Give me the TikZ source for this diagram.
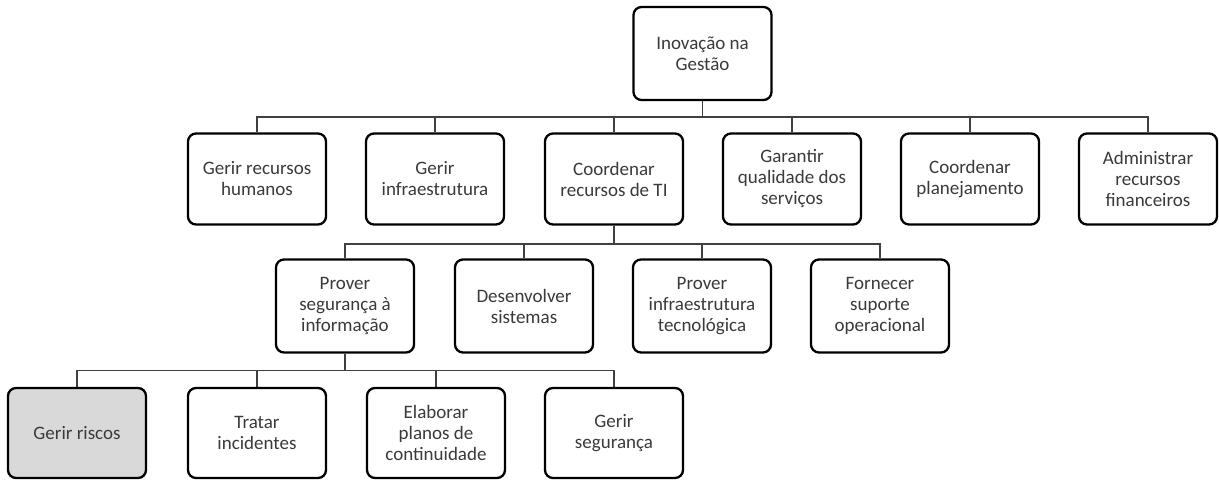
\documentclass[tikz,border=0pt]{standalone}
\usepackage{fontspec}
\setmainfont{Carlito}
\usepackage{xcolor}
\usepackage{tikz}
\usetikzlibrary{backgrounds}
\definecolor{riskgray}{HTML}{D9D9D9}
\definecolor{textgray}{HTML}{3A3A3A}
\definecolor{wiregray}{HTML}{404040}
\begin{document}
\begin{tikzpicture}[x=1pt,y=-1pt,
  task/.style={draw=black,line width=2.3pt,rounded corners=8pt,fill=white,
   minimum width=138pt,minimum height=91pt,inner sep=2pt,align=center,
   text=textgray,font=\fontsize{19}{21}\selectfont},
  wire/.style={draw=wiregray,line width=1.5pt}]
 \useasboundingbox (0,0) rectangle (1219,480);
 % root
 \node[task,minimum height=93pt] (root) at (702.5,53.5) {Inovação na\\Gestão};
 % first level
 \node[task] (rh)    at (257,179) {Gerir recursos\\humanos};
 \node[task] (infra) at (435,179) {Gerir\\infraestrutura};
 \node[task] (ti)    at (614,179) {Coordenar\\recursos de TI};
 \node[task] (qual)  at (792,179) {Garantir\\qualidade dos\\serviços};
 \node[task] (plan)  at (970,179) {Coordenar\\planejamento};
 \node[task] (fin)   at (1148,179) {Administrar\\recursos\\financeiros};
 % second level
 \node[task,minimum height=93pt] (seg)  at (345,306) {Prover\\segurança à\\informação};
 \node[task,minimum height=93pt] (sis)  at (524,306) {Desenvolver\\sistemas};
 \node[task,minimum height=93pt] (tec)  at (702,306) {Prover\\infraestrutura\\tecnológica};
 \node[task,minimum height=93pt] (sup)  at (880,306) {Fornecer\\suporte\\operacional};
 % third level
 \node[task,fill=riskgray,minimum height=90pt] (risk) at (77,433) {Gerir riscos};
 \node[task,minimum height=90pt] (inc)  at (257,433) {Tratar\\incidentes};
 \node[task,minimum height=90pt] (cont) at (436,433) {Elaborar\\planos de\\continuidade};
 \node[task,minimum height=90pt] (gseg) at (614,433) {Gerir\\segurança};
 % connectors
 \begin{scope}[on background layer]
  \foreach \c in {rh,infra,ti,qual,plan,fin}
   \draw[wire] (root.south) -- ++(0,16) -| (\c.north);
  \foreach \c in {seg,sis,tec,sup}
   \draw[wire] (ti.south) -- ++(0,18.5) -| (\c.north);
  \foreach \c in {risk,inc,cont,gseg}
   \draw[wire] (seg.south) -- ++(0,17) -| (\c.north);
 \end{scope}
\end{tikzpicture}
\end{document}
